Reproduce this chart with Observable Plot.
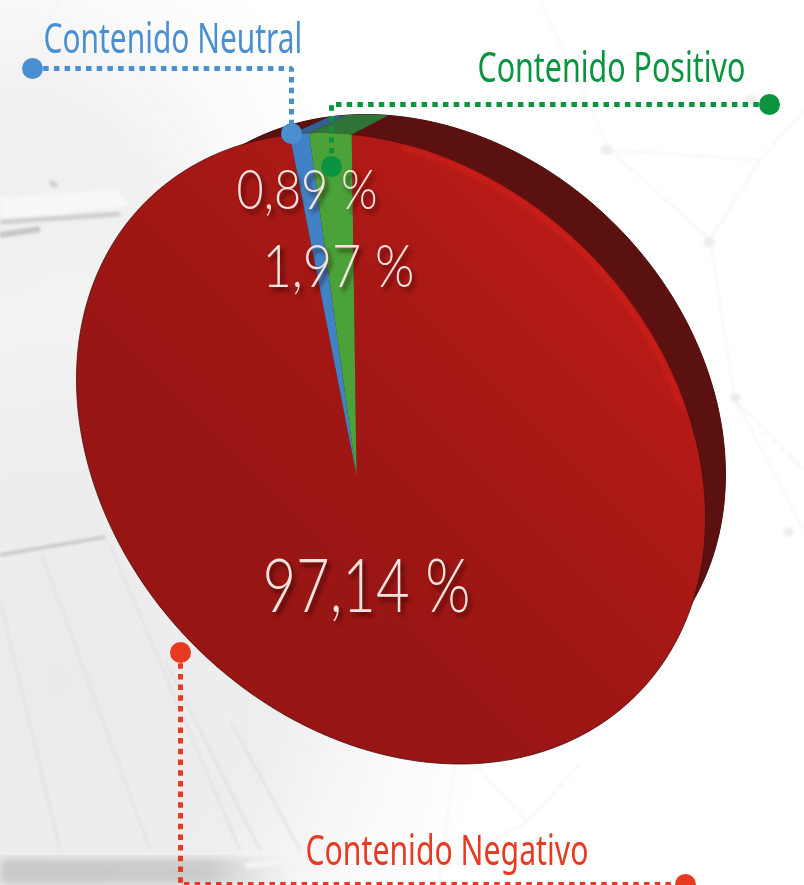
<!DOCTYPE html>
<html><head><meta charset="utf-8">
<script src="https://cdn.jsdelivr.net/npm/d3@7"></script>
<script src="https://cdn.jsdelivr.net/npm/@observablehq/plot@0.6"></script>
<style>
html,body{margin:0;padding:0;background:#fff;overflow:hidden}
#bg{position:absolute;left:0;top:0;width:804px;height:885px;z-index:0;
background:
 radial-gradient(ellipse 430px 470px at 60px 680px,#ebebeb 0,#eeeeee 50%,rgba(245,245,245,.5) 78%,rgba(255,255,255,0) 100%),
 radial-gradient(ellipse 340px 380px at 10px 260px,#efefef 0,#f1f1f1 45%,rgba(248,248,248,.5) 75%,rgba(255,255,255,0) 100%),
 #fff}
#bg svg{position:absolute;left:0;top:0}
#chart{position:absolute;left:0;top:0;z-index:1}
#chart svg{display:block;background:transparent}
</style></head><body>
<div id="bg"><svg width="804" height="885" fill="none">
<defs><filter id="b1"><feGaussianBlur stdDeviation="1.5"/></filter><filter id="b3"><feGaussianBlur stdDeviation="4"/></filter>
<linearGradient id="floor"><stop offset="0" stop-color="#c9c9c9"/><stop offset=".7" stop-color="#cccccc"/><stop offset="1" stop-color="#e4e4e4" stop-opacity="0"/></linearGradient></defs>
<g filter="url(#b1)">
<path d="M0 197L115 190L130 205L60 215L0 220Z" fill="#f7f7f7"/>
<path d="M0 222L120 214" stroke="#cfcfcf" stroke-width="5"/><path d="M0 235L40 229" stroke="#c6c6c6" stroke-width="6"/>
<path d="M52 186L55 182" stroke="#cfcfcf" stroke-width="8"/>
<path d="M0 555L105 537" stroke="#c2c2c2" stroke-width="3"/>
<g stroke="#e2e2e2" stroke-width="2.5"><path d="M0 600L60 850M42 555L150 850M110 545L240 850M165 660L260 850M230 720L300 850"/></g>
<g stroke="#f2f2f2" stroke-width="1.5"><path d="M0 100L60 0M0 100L130 60L230 210M540 0L610 150L760 160L804 110M610 150L710 240L735 400M760 160L710 240M735 400L804 530M735 400L804 470M455 764L438 885M475 764L527 822L580 764M527 822L440 870"/></g>
<g stroke="#ececec" stroke-width="9" stroke-linecap="round"><path d="M605 150L608 150M708 242L710 242M735 398L736 398M788 532L789 532M750 100L752 100"/></g>
</g>
<rect x="0" y="858" width="300" height="27" fill="url(#floor)" filter="url(#b3)"/>
<path d="M245 866L300 860M290 870L340 866" stroke="#f4f4f4" stroke-width="6" filter="url(#b1)"/>
</svg></div>
<div id="chart"></div>
<script>
const categories = ["Contenido Negativo", "Contenido Neutral", "Contenido Positivo"];
const shares = [97.14, 0.89, 1.97];
const shareLabels = ["97,14 %", "0,89 %", "1,97 %"];

const W = 804, H = 885;
const apex = [356, 475];
const ellipse = (c, sx, sy, sxy) => { const det = sx*sx*sy*sy - sxy*sxy; return {c, q:[sy*sy/det, -sxy/det, sx*sx/det]}; };
const front = ellipse([390.5, 448], 314.5, 315.5, 21760);
const rear = ellipse([425, 414], 300, 300, 18000);
function ray(e, o, d){
  const ox = o[0]-e.c[0], oy = o[1]-e.c[1], q = e.q;
  const A = q[0]*d[0]*d[0] + 2*q[1]*d[0]*d[1] + q[2]*d[1]*d[1];
  const B = 2*(q[0]*ox*d[0] + q[1]*(ox*d[1]+oy*d[0]) + q[2]*oy*d[1]);
  const C = q[0]*ox*ox + 2*q[1]*ox*oy + q[2]*oy*oy - 1;
  const t = (-B + Math.sqrt(B*B - 4*A*C))/(2*A);
  return [o[0]+t*d[0], o[1]+t*d[1]];
}
const rim = a => ray(front, apex, [Math.sin(a), -Math.cos(a)]);
const toBack = p => ray(rear, rear.c, [p[0]-front.c[0], p[1]-front.c[1]]);
const deg = Math.PI/180, start = -0.8*deg;
const arcs = d3.pie().sort(null).startAngle(start).endAngle(2*Math.PI+start)(shares);
const sweep = (a0,a1) => { const n = Math.max(2, Math.ceil((a1-a0)/0.01)); return d3.range(n+1).map(i => rim(a0+(a1-a0)*i/n)); };
const rimPts = arcs.map(a => sweep(a.startAngle, a.endAngle));
const xy = p => ({x:p[0], y:p[1]});
const backOutline = d3.range(0,361,2).map(a => ray(rear, rear.c, [Math.sin(a*deg), -Math.cos(a*deg)])).map(xy);
const faces = rimPts.map(pts => [apex, ...pts, apex].map(xy));
const sides = rimPts.map(pts => [...pts, ...pts.map(toBack).reverse()].map(xy));
const sheen = sweep(8*deg, 78*deg).map(p => xy([front.c[0]+(p[0]-front.c[0])*0.985, front.c[1]+(p[1]-front.c[1])*0.985]));

const faceColor = {"Contenido Neutral":"#3f82c6","Contenido Positivo":"#4aa238"};
const sideColor = {"Contenido Neutral":"#33608e","Contenido Positivo":"#2f7436"};
const titleColor = {"Contenido Negativo":"#e63a22","Contenido Neutral":"#4a90d0","Contenido Positivo":"#0a9440"};

const titles = [
 {t:categories[1], x:43, y:52, w:259},
 {t:categories[2], x:477, y:81, w:268},
 {t:categories[0], x:305, y:864, w:283}];
const values = [
 {t:shareLabels[1], x:236, y:208, w:141, s:56},
 {t:shareLabels[2], x:262, y:286, w:152, s:60},
 {t:shareLabels[0], x:262, y:611, w:208, s:74}];
const leaders = [
 {k:categories[1], pts:[[32,68],[291,68],[291,133]]},
 {k:categories[2], pts:[[769,104],[331,104],[331,166]]},
 {k:categories[0], pts:[[180,652],[180,884],[685,884]]}];

const defs = () => {
  const d = d3.create("svg:defs");
  const g = d.append("linearGradient").attr("id","face").attr("gradientUnits","userSpaceOnUse")
    .attr("x1",680).attr("y1",240).attr("x2",300).attr("y2",620);
  [[0,"#c21c18"],[0.2,"#b51a17"],[0.45,"#a81915"],[0.65,"#a01714"],[1,"#971614"]]
    .forEach(([o,c]) => g.append("stop").attr("offset",o).attr("stop-color",c));
  return d.node();
};

const plot = Plot.plot({
  width:W, height:H, margin:0,
  x:{domain:[0,W], range:[0,W], axis:null},
  y:{domain:[0,H], range:[0,H], axis:null},
  marks:[
    defs,
    Plot.line(backOutline,{x:"x",y:"y",fill:"#5a110f",stroke:"#4a0d0c",strokeWidth:1}),
    ...[1,2].map(i => Plot.line(sides[i],{x:"x",y:"y",fill:sideColor[categories[i]],stroke:"none"})),
    Plot.line(faces[0],{x:"x",y:"y",fill:"url(#face)",stroke:"none"}),
    Plot.line(rimPts[0].map(xy),{x:"x",y:"y",stroke:"#4a0d0c",strokeWidth:1,strokeOpacity:.8}),
    Plot.line(sheen,{x:"x",y:"y",stroke:"#e8271d",strokeWidth:4,strokeOpacity:.55,imageFilter:"blur(2.5px)"}),
    ...[1,2].map(i => Plot.line(faces[i],{x:"x",y:"y",fill:faceColor[categories[i]],stroke:"none"})),
    Plot.text(values,{x:"x",y:"y",text:"t",fontSize:"s",textAnchor:"start",lineAnchor:"bottom",fill:"#f6e2de",
      fontFamily:"Lato, sans-serif",fontWeight:300,
      imageFilter:"drop-shadow(3px 4px 2px rgba(40,0,0,.65))",className:"val"}),
    ...leaders.map(l => Plot.line(l.pts.map(xy),{x:"x",y:"y",stroke:titleColor[l.k],strokeWidth:5,strokeDasharray:"5.5 5.2",strokeLinecap:"butt",strokeLinejoin:"miter"})),
    Plot.dot(leaders.flatMap(l => [l.pts[0], l.pts[l.pts.length-1]].map(p=>({x:p[0],y:p[1],k:l.k}))),
      {x:"x",y:"y",r:10.5,fill:d=>titleColor[d.k],stroke:"none"}),
    Plot.text(titles,{x:"x",y:"y",text:"t",fontSize:41,textAnchor:"start",lineAnchor:"bottom",fill:d=>titleColor[d.t],
      fontFamily:"'Noto Sans',sans-serif",className:"ttl"})
  ]
});
plot.setAttribute("style","background:transparent");
document.getElementById("chart").appendChild(plot);
const fit = (sel, rows) => d3.select(plot).selectAll(sel).each(function(_, i){
  const k = rows[i].w / this.getComputedTextLength();
  const tr = this.getAttribute("transform") || "";
  this.setAttribute("transform", tr + ` scale(${k},1)`);
});
fit("g.val text", values); fit("g.ttl text", titles);
</script>
</body></html>
